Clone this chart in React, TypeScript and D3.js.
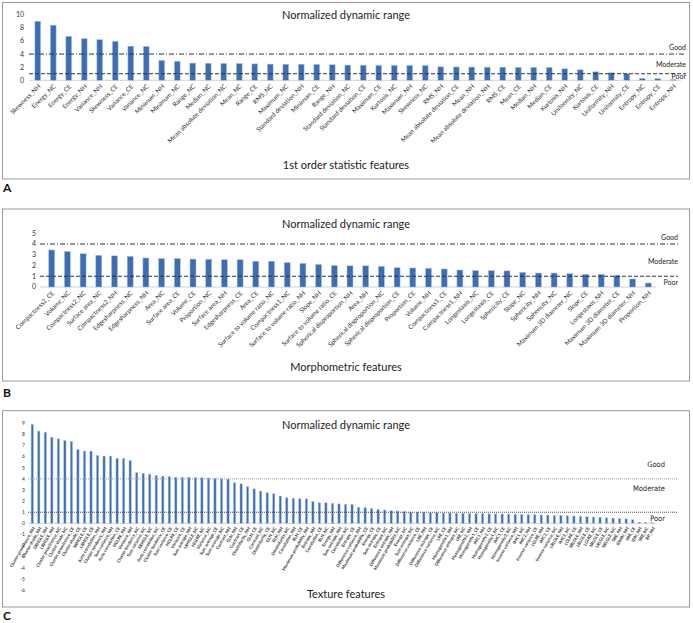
import React from "react";
import * as d3 from "d3";

// ---------- DATA ----------
const firstOrderFeatures = [
  "Skewness_NH", "Energy_NC", "Energy_CE", "Energy_NH", "Variance_NH", "Skewness_CE", "Variance_CE", "Variance_NC",
  "Minimum_NH", "Minimum_NC", "Range_NC", "Median_NC", "Mean absolute deviation_NC", "Mean_NC", "Range_CE", "RMS_NC",
  "Maximum_NC", "Standard deviation_NH", "Minimum_CE", "Range_NH", "Standard deviation_NC", "Standard deviation_CE",
  "Maximum_CE", "Kurtosis_NC", "Maximum_NH", "Skewness_NC", "RMS_NH", "Mean absolute deviation_CE", "Mean_NH",
  "Mean absolute deviation_NH", "RMS_CE", "Mean_CE", "Median_NH", "Median_CE", "Kurtosis_NH", "Uniformity_NC",
  "Kurtosis_CE", "Uniformity_NH", "Uniformity_CE", "Entropy_NC", "Entropy_CE", "Entropy_NH",
];
const firstOrderValues = [
  9.0, 8.4, 6.7, 6.35, 6.2, 5.95, 5.2, 5.15,
  3.05, 2.9, 2.62, 2.6, 2.57, 2.55, 2.5, 2.47,
  2.45, 2.45, 2.42, 2.37, 2.32, 2.3,
  2.28, 2.27, 2.26, 2.25, 2.05, 2.03, 2.02,
  2.0, 2.0, 1.98, 1.97, 1.96, 1.75, 1.6,
  1.3, 1.15, 1.0, 0.3, 0.25, 0.1,
];
const firstOrderTicks = [0, 2, 4, 6, 8, 10];

const morphFeatures = [
  "Compactness2_CE", "Volume_NC", "Compactness2_NC", "Surface area_NC", "Compactness2_NH", "Edgesharpness_NC",
  "Edgesharpness_NH", "Area_NC", "Surface area_CE", "Volume_CE", "Proportion_NC", "Surface area_NH", "Edgesharpness_CE",
  "Area_CE", "Surface to volume ratio_NC", "Compactness1_NC", "Surface to volume ratio_NH", "Slope_NH",
  "Surface to volume ratio_CE", "Spherical disproportion_NH", "Area_NH", "Spherical disproportion_NC",
  "Spherical disproportion_CE", "Proportion_CE", "Volume_NH", "Compactness1_CE", "Compactness1_NH", "Longestaxis_NC",
  "Longestaxis_CE", "Sphericity_CE", "Slope_NC", "Sphericity_NH", "Sphericity_NC", "Maximum 3D diameter_NC",
  "Slope_CE", "Longestaxis_NH", "Maximum 3D diameter_CE", "Maximum 3D diameter_NH", "Proportion_NH",
];
const morphValues = [
  3.45, 3.3, 3.1, 2.95, 2.9, 2.85,
  2.7, 2.65, 2.65, 2.6, 2.58, 2.55, 2.55,
  2.4, 2.4, 2.27, 2.2, 2.1,
  2.0, 1.97, 1.97, 1.93,
  1.8, 1.77, 1.74, 1.68, 1.58, 1.52,
  1.52, 1.5, 1.37, 1.3, 1.3, 1.24,
  1.18, 1.18, 1.09, 0.75, 0.37,
];
const morphTicks = [0, 1, 2, 3, 4, 5];

const textureFeatures = [
  "Cluster prominence_NH", "Cluster shade_NH", "SRHGLE_NH", "LRHGLE_NH", "Cluster prominence_NC", "Cluster shade_NC",
  "Cluster prominence_CE", "Cluster shade_CE", "SRHGLE_CE", "LRHGLE_CE", "Auto correlation_NH", "Cluster tendency_NH",
  "Sum variance_NH", "Auto correlation_CE", "HGLRE_NH", "Variance_NH", "Cluster tendency_NC", "Sum variance_NC",
  "SRHGLE_NC", "Auto correlation_NC", "Cluster tendency_CE", "Sum variance_CE", "HGLRE_CE", "Variance_CE",
  "Sum average_NH", "LRHGLE_NC", "HGLRE_NC", "Variance_NC", "Sum average_CE", "Sum average_NC",
  "Contrast_NH", "GLN_NH", "Contrast_CE", "Dissimilarity_NH", "GLN_CE", "Contrast_NC",
  "Dissimilarity_CE", "GLN_NC", "RLN_NH", "Dissimilarity_NC", "Correlation_NH", "RLN_CE",
  "Maximum probability_NH", "Entropy_NH", "Correlation_CE", "RLN_NC", "Energy_NH", "Sum entropy_NH",
  "Correlation_NC", "Entropy_CE", "Difference variance_NH", "Maximum probability_CE", "Energy_CE", "Sum entropy_CE",
  "Entropy_NC", "Difference entropy_NH", "Maximum probability_NC", "Energy_NC", "Sum entropy_NC", "Difference variance_CE",
  "LRE_NH", "Difference entropy_CE", "Difference variance_NC", "LRE_CE", "Homogeneity1_NH", "Difference entropy_NC",
  "LRE_NC", "Homogeneity2_NH", "Homogeneity1_CE", "IMC1_NH", "Homogeneity2_CE", "Homogeneity1_NC",
  "IMC1_CE", "Homogeneity2_NC", "Inverse variance_NH", "IMC1_NC", "IMC2_NH", "Inverse variance_CE",
  "LGLRE_NH", "IMC2_CE", "Inverse variance_NC", "LRLGLE_NH", "IMC2_NC", "LGLRE_CE",
  "SRLGLE_NH", "LRLGLE_CE", "LGLRE_NC", "SRLGLE_CE", "LRLGLE_NC", "SRLGLE_NC",
  "SRE_NH", "IDMN_NH", "SRE_CE", "IDN_NH", "SRE_NC", "RP_NH",
];
const textureValues = [
  8.9, 8.3, 8.2, 7.75, 7.6, 7.45, 7.35, 6.65, 6.5, 6.5, 6.1, 6.05, 6.05, 5.85, 5.85, 5.65, 4.55, 4.5, 4.4, 4.3, 4.25, 4.2, 4.15,
  4.15, 4.15, 4.12, 4.1, 4.08, 4.05, 4.0, 3.98, 3.65, 3.55, 3.3, 3.1, 2.9, 2.75, 2.65, 2.45, 2.3, 2.25, 2.2, 2.2, 1.95, 1.85, 1.85, 1.8,
  1.75, 1.7, 1.7, 1.45, 1.4, 1.35, 1.25, 1.2, 1.15, 1.1, 1.05, 1.0, 1.0, 1.0, 0.95, 0.95, 0.93, 0.93, 0.9, 0.9, 0.9, 0.87, 0.87, 0.85,
  0.85, 0.84, 0.83, 0.82, 0.8, 0.78, 0.77, 0.75, 0.74, 0.72, 0.7, 0.68, 0.66, 0.63, 0.6, 0.57, 0.54, 0.5, 0.47, 0.43, 0.4, 0.32, 0.1, 0.1, 0.05,
];
const textureTicks = [-6, -5, -4, -3, -2, -1, 0, 1, 2, 3, 4, 5, 6, 7, 8, 9];

const thresholds = { good: 4, poor: 1 };
const levelLabels = ["Good", "Moderate", "Poor"];
const chartTitle = "Normalized dynamic range";

// ---------- STYLE ----------
const FONT = "Lato, 'Open Sans', sans-serif";
const BAR = "#3d6db5";
const BAR_EDGE = "#a9c3e6";

type PanelProps = {
  letter: string;
  names: string[];
  values: number[];
  ticks: number[];
  box: { x: number; y: number; w: number; h: number };
  letterY: number;
  yDomain: [number, number];
  yRange: [number, number];
  xRange: [number, number];
  padding: number;
  titleY: number;
  axisTitle: string;
  axisTitleY: number;
  tickX: number;
  tickFont: number;
  lineX: [number, number];
  labelRight: number;
  levelY: number[];
  levelFont: number;
  levelFamily: string;
  labelFont: number;
  labelAngle: number;
  labelDY: number;
  labelWeight?: number;
  goodDash: string;
  poorDash: string;
  goodColor: string;
  poorColor: string;
  lineWidth: number;
};

function Panel(p: PanelProps) {
  const y = d3.scaleLinear().domain(p.yDomain).range(p.yRange);
  const x = d3
    .scaleBand<string>()
    .domain(p.names)
    .range(p.xRange)
    .paddingInner(p.padding)
    .paddingOuter(p.padding / 2);
  const y0 = y(0);
  return (
    <g>
      <rect x={p.box.x} y={p.box.y} width={p.box.w} height={p.box.h} fill="#fff" stroke="#9a9a9a" strokeWidth={1} />
      <text x={3} y={p.letterY} fontFamily={FONT} fontWeight={700} fontSize={12} fill="#111">
        {p.letter}
      </text>
      <text x={346} y={p.titleY} textAnchor="middle" fontFamily={FONT} fontSize={11} fill="#222">
        {chartTitle}
      </text>
      <text x={346} y={p.axisTitleY} textAnchor="middle" fontFamily={FONT} fontSize={11} fill="#222">
        {p.axisTitle}
      </text>
      {p.ticks.map((t) => (
        <text
          key={t}
          x={p.tickX}
          y={y(t)}
          dy="0.35em"
          textAnchor="end"
          fontFamily={FONT}
          fontSize={p.tickFont}
          fill="#333"
        >
          {t}
        </text>
      ))}
      <line x1={p.lineX[0]} x2={p.xRange[1]} y1={y0} y2={y0} stroke="#c8c8c8" strokeWidth={0.8} />
      {p.values.map((v, i) => {
        const name = p.names[i];
        const top = y(Math.max(v, 0));
        return (
          <rect
            key={name + i}
            x={x(name)}
            y={top}
            width={x.bandwidth()}
            height={Math.abs(y(v) - y0)}
            fill={BAR}
            stroke={BAR_EDGE}
            strokeWidth={0.5}
          />
        );
      })}
      <line
        x1={p.lineX[0]}
        x2={p.lineX[1]}
        y1={y(thresholds.good)}
        y2={y(thresholds.good)}
        stroke={p.goodColor}
        strokeWidth={p.lineWidth}
        strokeDasharray={p.goodDash}
      />
      <line
        x1={p.lineX[0]}
        x2={p.lineX[1]}
        y1={y(thresholds.poor)}
        y2={y(thresholds.poor)}
        stroke={p.poorColor}
        strokeWidth={p.lineWidth}
        strokeDasharray={p.poorDash}
      />
      {levelLabels.map((l, i) => (
        <text
          key={l}
          x={p.labelRight}
          y={p.levelY[i]}
          textAnchor="end"
          fontFamily={p.levelFamily}
          fontSize={p.levelFont}
          fill="#222"
        >
          {l}
        </text>
      ))}
      {p.names.map((n) => {
        const cx = (x(n) as number) + x.bandwidth() / 2;
        return (
          <text
            key={n}
            transform={`translate(${cx + 1.5},${y0 + p.labelDY}) rotate(${p.labelAngle})`}
            textAnchor="end"
            dy="0.35em"
            fontFamily={FONT}
            fontSize={p.labelFont}
            fontWeight={p.labelWeight ?? 400}
            fill="#333"
          >
            {n}
          </text>
        );
      })}
    </g>
  );
}

export default function App() {
  return (
    <svg
      width={693}
      height={623}
      style={{ position: "absolute", left: 0, top: 0, background: "#fff" }}
    >
      <rect x={0} y={0} width={693} height={623} fill="#fff" />
      <Panel
        letter="A"
        names={firstOrderFeatures}
        values={firstOrderValues}
        ticks={firstOrderTicks}
        box={{ x: 2.5, y: 2.5, w: 687, h: 176.5 }}
        letterY={192}
        yDomain={[0, 10]}
        yRange={[80.3, 14.7]}
        xRange={[30, 681]}
        padding={0.63}
        titleY={19}
        axisTitle="1st order statistic features"
        axisTitleY={169}
        tickX={24}
        tickFont={7}
        lineX={[29, 686]}
        labelRight={686}
        levelY={[50, 66.5, 79]}
        levelFont={7}
        levelFamily={FONT}
        labelFont={6.3}
        labelAngle={-45}
        labelDY={5}
        goodDash="5,2,1,2"
        poorDash="4,2"
        goodColor="#333"
        poorColor="#333"
        lineWidth={1}
      />
      <Panel
        letter="B"
        names={morphFeatures}
        values={morphValues}
        ticks={morphTicks}
        box={{ x: 2.5, y: 209, w: 687, h: 172 }}
        letterY={397}
        yDomain={[0, 5]}
        yRange={[287, 233.3]}
        xRange={[43.85, 656.15]}
        padding={0.62}
        titleY={227.5}
        axisTitle="Morphometric features"
        axisTitleY={371}
        tickX={36}
        tickFont={7}
        lineX={[40, 678]}
        labelRight={678}
        levelY={[239.5, 264, 284.5]}
        levelFont={7}
        levelFamily={FONT}
        labelFont={6.3}
        labelAngle={-45}
        labelDY={5}
        goodDash="5,2,1,2"
        poorDash="4,2"
        goodColor="#333"
        poorColor="#333"
        lineWidth={1}
      />
      <Panel
        letter="C"
        names={textureFeatures}
        values={textureValues}
        ticks={textureTicks}
        box={{ x: 2.5, y: 410.7, w: 687, h: 196.3 }}
        letterY={620}
        yDomain={[-6, 9]}
        yRange={[590, 423.3]}
        xRange={[29, 655.5]}
        padding={0.65}
        titleY={429}
        axisTitle="Texture features"
        axisTitleY={598}
        tickX={25}
        tickFont={5}
        lineX={[28, 677]}
        labelRight={665}
        levelY={[467, 491, 521]}
        levelFont={7.5}
        levelFamily="'Liberation Sans Narrow', 'DejaVu Sans Condensed', Lato, sans-serif"
        labelFont={4.3}
        labelAngle={-60}
        labelDY={4}
        labelWeight={700}
        goodDash="1,1"
        poorDash="1,1"
        goodColor="#999"
        poorColor="#444"
        lineWidth={1}
      />
    </svg>
  );
}
